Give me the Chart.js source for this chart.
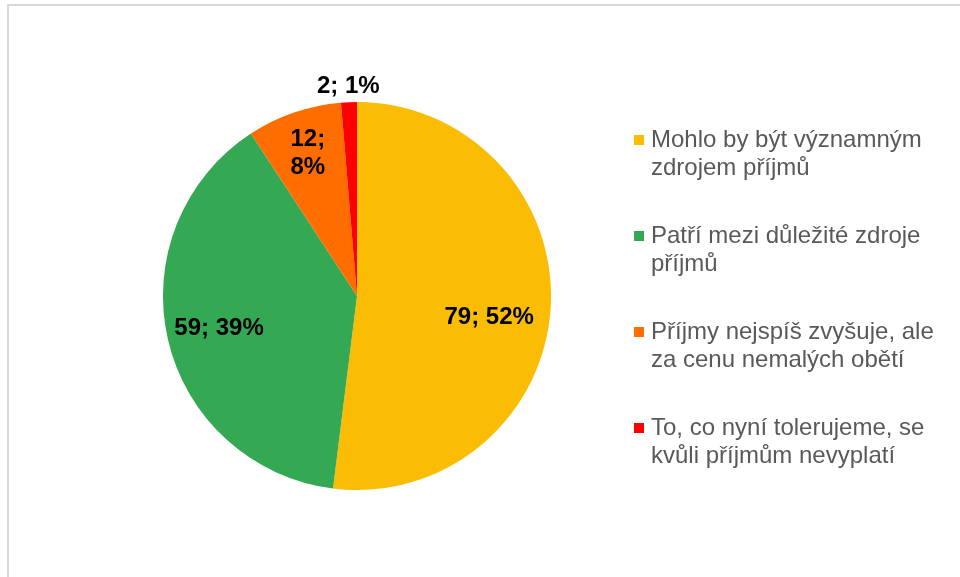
<!DOCTYPE html>
<html>
<head>
<meta charset="utf-8">
<script src="https://cdn.jsdelivr.net/npm/chart.js@4.4.1/dist/chart.umd.min.js"></script>
<style>
  html, body { margin: 0; padding: 0; background: #fff; overflow: hidden; }
  #frame { position: absolute; left: 7px; top: 4px; width: 1100px; height: 700px; border: 2px solid #d9d9d9; }
  #wrap { position: absolute; left: 0; top: 0; width: 960px; height: 577px; }
</style>
</head>
<body>
<div id="frame"></div>
<div id="wrap"><canvas id="pie"></canvas></div>
<script>
// data
const categories = [
    ['Mohlo by být významným', 'zdrojem příjmů'],
    ['Patří mezi důležité zdroje', 'příjmů'],
    ['Příjmy nejspíš zvyšuje, ale', 'za cenu nemalých obětí'],
    ['To, co nyní tolerujeme, se', 'kvůli příjmům nevyplatí']
];
const counts = [79, 59, 12, 2];
const colors = ['#FBBC04', '#34A853', '#FF6D01', '#FF0000'];

// where each value label sits (fraction of radius, extra turn in degrees)
const labelRadius = [0.69, 0.73, 0.78, 1.08];
const labelTurn = [5.6, 0, 0, 0];
const labelWrap = [false, false, true, false];

const FONT = '"Liberation Sans", Arial, sans-serif';

const valueLabels = {
    id: 'valueLabels',
    afterDatasetsDraw(chart) {
        const ctx = chart.ctx;
        const total = counts.reduce((a, b) => a + b, 0);
        const meta = chart.getDatasetMeta(0);
        ctx.save();
        ctx.font = 'bold 24px ' + FONT;
        ctx.fillStyle = '#000';
        ctx.textAlign = 'center';
        ctx.textBaseline = 'middle';
        meta.data.forEach((arc, i) => {
            const mid = (arc.startAngle + arc.endAngle) / 2 + labelTurn[i] * Math.PI / 180;
            const r = arc.outerRadius * labelRadius[i];
            const x = arc.x + Math.cos(mid) * r;
            const y = arc.y + Math.sin(mid) * r;
            const pct = Math.round(counts[i] / total * 100);
            const lines = labelWrap[i] ? [counts[i] + ';', pct + '%'] : [counts[i] + '; ' + pct + '%'];
            const lh = 28;
            lines.forEach((t, k) => {
                ctx.fillText(t, x, y + (k - (lines.length - 1) / 2) * lh);
            });
        });
        ctx.restore();
    }
};

// legend on the right, drawn by hand so the labels can wrap like the original
const sideLegend = {
    id: 'sideLegend',
    afterDraw(chart) {
        const ctx = chart.ctx;
        const top = 140, step = 96, lh = 28.5;
        ctx.save();
        ctx.font = '24px ' + FONT;
        ctx.textAlign = 'left';
        ctx.textBaseline = 'middle';
        chart.data.labels.forEach((lab, i) => {
            const y = top + i * step;
            ctx.fillStyle = chart.data.datasets[0].backgroundColor[i];
            ctx.fillRect(634, y - 5, 10, 10);
            ctx.fillStyle = '#595959';
            lab.forEach((t, k) => ctx.fillText(t, 651, y + k * lh));
        });
        ctx.restore();
    }
};

new Chart(document.getElementById('pie'), {
    type: 'pie',
    data: {
        labels: categories,
        datasets: [{
            data: counts,
            backgroundColor: colors,
            borderWidth: 0
        }]
    },
    options: {
        responsive: true,
        maintainAspectRatio: false,
        animation: false,
        layout: { padding: { left: 163, right: 409, top: 102, bottom: 87 } },
        plugins: {
            legend: { display: false },
            tooltip: { enabled: false }
        }
    },
    plugins: [valueLabels, sideLegend]
});
</script>
</body>
</html>
